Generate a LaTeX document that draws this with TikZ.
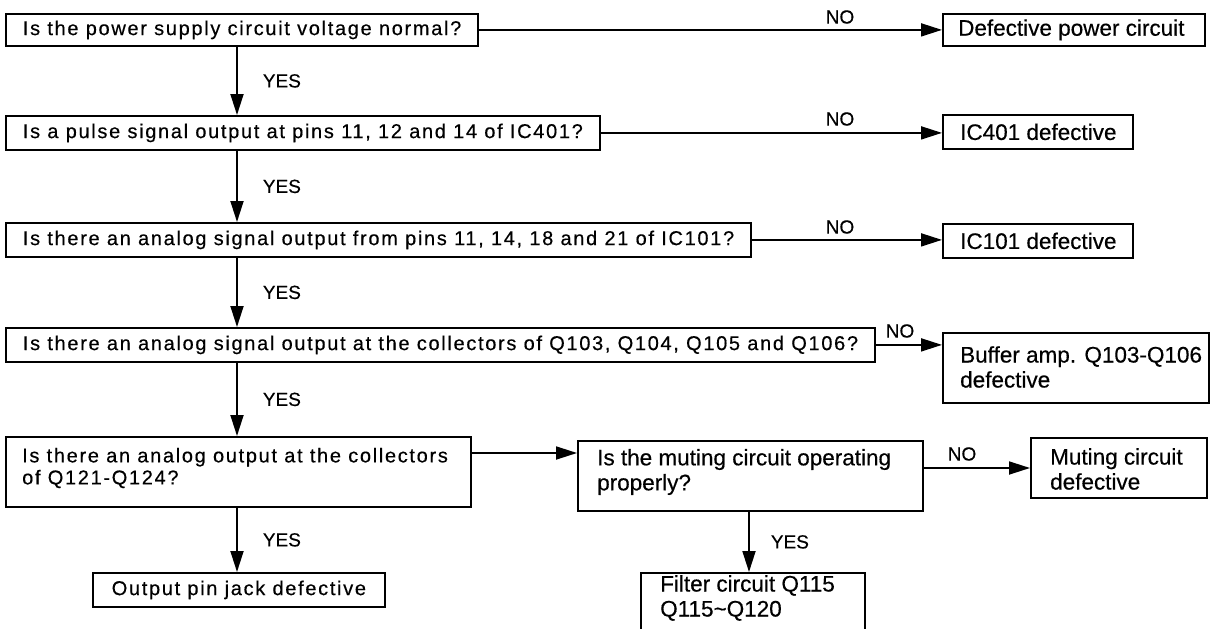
\documentclass[tikz,border=0pt]{standalone}
\usepackage{fontspec}
\setmainfont{Liberation Sans}
\newfontfamily\qfont[LetterSpace=8.4,FakeBold=0.4]{Liberation Sans}
\newfontfamily\rfont[FakeBold=0.4]{Liberation Sans}
\usetikzlibrary{arrows.meta}
\begin{document}
\begin{tikzpicture}[x=1pt,y=-1pt,
  box/.style={draw, line width=1.8pt, anchor=north west},
  qbox/.style={box, inner xsep=17pt, inner ysep=0pt, font=\qfont\fontsize{20}{22}\selectfont},
  qtext/.style={inner sep=0pt, align=left, font=\qfont\fontsize{20}{22}\selectfont},
  rtext/.style={inner sep=0pt, align=left, font=\rfont\fontsize{22.5}{25}\selectfont},
  arr/.style={line width=1.8pt, -{Triangle[length=21pt,width=13pt]}},
  lbl/.style={font=\rfont\fontsize{19}{19}\selectfont, inner sep=0pt}]
\useasboundingbox (0,0) rectangle (1213,629);

% ---- left column questions
\node[qbox, minimum height=32pt] (q1) at (5,13) {Is the power supply circuit voltage normal?};
\node[qbox, minimum height=34pt] (q2) at (5,115) {Is a pulse signal output at pins 11, 12 and 14 of IC401?};
\node[qbox, minimum height=34pt] (q3) at (5,222) {Is there an analog signal output from pins 11, 14, 18 and 21 of IC101?};
\node[qbox, minimum height=34pt] (q4) at (5,327) {Is there an analog signal output at the collectors of Q103, Q104, Q105 and Q106?};
\node[box, minimum width=465pt, minimum height=70pt] (q5) at (5,436) {};
\node[qtext, anchor=west] (q5t) at (22,468) {Is there an analog output at the collectors\\of Q121-Q124?};
\node[box, minimum width=345pt, minimum height=70pt] (m) at (577,440) {};
\node[rtext, anchor=west] (mt) at (597,472) {Is the muting circuit operating\\properly?};

% ---- results
\node[box, minimum width=262pt, minimum height=32pt] (r1) at (942,13) {};
\node[rtext, anchor=west] (r1t) at ([xshift=16pt]r1.west) {Defective power circuit};
\node[box, minimum width=190pt, minimum height=34pt] (r2) at (942,114) {};
\node[rtext, anchor=west] (r2t) at ([xshift=18pt]r2.west) {IC401 defective};
\node[box, minimum width=190pt, minimum height=34pt] (r3) at (942,223) {};
\node[rtext, anchor=west] (r3t) at ([xshift=18pt]r3.west) {IC101 defective};
\node[box, minimum width=266pt, minimum height=70pt] (r4) at (942,332) {};
\node[rtext, anchor=west] (r4t) at (960,367) {Buffer amp. Q103-Q106\\defective};
\node[box, minimum width=176pt, minimum height=60pt] (r5) at (1030,437) {};
\node[rtext, anchor=west] (r5t) at (1050,469) {Muting circuit\\defective};
\node[box, minimum width=292pt, minimum height=34pt] (r6) at (92,572) {};
\node[qtext] (r6t) at (r6.center) {Output pin jack defective};
\begin{scope}
\clip (0,0) rectangle (1213,629);
\node[box, minimum width=224pt, minimum height=85pt] (r7) at (640,572) {};
\end{scope}
\node[rtext, anchor=west] (r7t) at (660,598) {Filter circuit Q115\\Q115\textasciitilde Q120};

% ---- NO connectors
\draw[arr] (q1.east) -- (q1.east -| r1.west);
\node[lbl] (no1) at (840,17) {NO};
\draw[arr] (q2.east) -- (q2.east -| r2.west);
\node[lbl] (no2) at (840,119) {NO};
\draw[arr] (q3.east) -- (q3.east -| r3.west);
\node[lbl] (no3) at (840,227) {NO};
\draw[arr] (q4.east) -- (q4.east -| r4.west);
\node[lbl] (no4) at (900,331) {NO};
\draw[arr] ([yshift=-17pt]q5.north east) -- ([yshift=-17pt]q5.north east -| m.west);
\draw[arr] ([yshift=-28pt]m.north east) -- ([yshift=-28pt]m.north east -| r5.west);
\node[lbl] (no5) at (962,454) {NO};

% ---- YES connectors
\draw[arr] (q1.south -| 237,0) -- (q2.north -| 237,0) node[lbl, midway, right=25pt] {YES};
\draw[arr] (q2.south -| 237,0) -- (q3.north -| 237,0) node[lbl, midway, right=25pt] {YES};
\draw[arr] (q3.south -| 237,0) -- (q4.north -| 237,0) node[lbl, midway, right=25pt] {YES};
\draw[arr] (q4.south -| 237,0) -- (q5.north -| 237,0) node[lbl, midway, right=25pt] {YES};
\draw[arr] (q5.south -| 237,0) -- (r6.north -| 237,0) node[lbl, midway, right=25pt] {YES};
\draw[arr] (m.south -| 749,0) -- (r7.north -| 749,0) node[lbl, midway, right=21pt] {YES};
\end{tikzpicture}
\end{document}
